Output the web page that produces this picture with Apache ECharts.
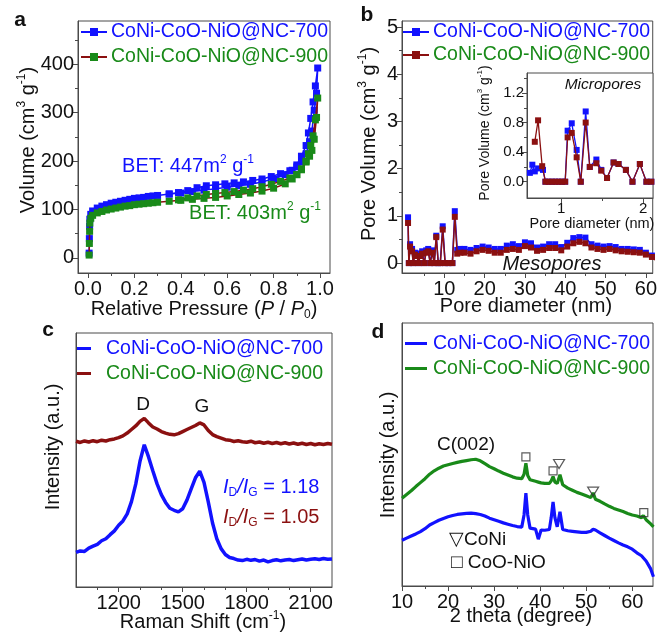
<!DOCTYPE html>
<html>
<head>
<meta charset="utf-8">
<script src="https://cdn.jsdelivr.net/npm/echarts@6/dist/echarts.min.js"></script>
<style>html,body{margin:0;padding:0;background:#fff}#c{width:660px;height:632px}</style>
</head>
<body>
<div id="c"></div>
<script>
// ---------- DATA ----------
const LBL700 = 'CoNi-CoO-NiO@NC-700';
const LBL900 = 'CoNi-CoO-NiO@NC-900';

// (a) N2 isotherms: adsorption then desorption
const isoP700 = [0.005,0.006,0.007,0.008,0.012,0.02,0.04,0.06,0.08,0.10,0.12,0.14,0.16,0.18,0.20,0.22,0.24,0.26,0.28,0.30,0.35,0.40,0.45,0.50,0.55,0.60,0.65,0.70,0.75,0.80,0.85,0.88,0.90,0.92,0.94,0.95,0.96,0.97,0.98,0.99,
  0.985,0.975,0.965,0.955,0.94,0.92,0.90,0.87,0.83,0.79,0.75,0.71,0.67,0.63,0.59,0.55,0.51,0.47,0.43,0.39,0.35];
const isoV700 = [10,40,65,80,90,97,103,107,110,113,115,117,119,121,123,124,125,127,128,129,132,134,137,140,143,146,149,152,157,163,172,181,192,210,232,258,288,322,355,392,
  340,305,262,240,215,198,188,180,174,168,163,160,157,155,153,151,149,145,139,135,132];
const isoP900 = [0.005,0.006,0.007,0.008,0.012,0.02,0.04,0.06,0.08,0.10,0.12,0.14,0.16,0.18,0.20,0.22,0.24,0.26,0.28,0.30,0.35,0.40,0.45,0.50,0.55,0.60,0.65,0.70,0.75,0.80,0.85,0.88,0.90,0.92,0.94,0.95,0.96,0.97,0.98,0.99,
  0.985,0.975,0.965,0.955,0.94,0.92,0.90,0.87,0.83,0.79,0.75,0.71,0.67,0.63,0.59,0.55,0.51,0.47,0.43,0.39];
const isoV900 = [6,30,55,72,82,88,93,96,99,101,103,105,107,108,110,111,112,113,114,115,117,119,121,123,125,128,131,134,138,144,153,163,172,184,200,215,232,252,285,330,
  290,245,222,210,198,182,172,165,158,152,147,143,140,137,135,133,131,128,124,120];

// (b) pore size distribution (mesopores)
const poreD = [1.0,1.2,1.5,2.0,2.3,2.7,3.2,3.6,4.0,4.5,5.0,5.5,6.0,6.5,7.0,7.5,8.0,8.5,9.0,9.6,10.2,11.0,12.0,12.6,13.2,14.0,15.0,16.5,18.0,19.5,21.0,22.5,24.0,25.5,27.0,28.5,30.0,31.5,33.0,34.5,36.0,37.5,39.0,40.5,42.0,43.5,45.0,46.5,48.0,49.5,51.0,52.5,54.0,55.5,57.0,58.5,60.0,61.5,62.5];
const pore700 = [0.97,0.0,0.4,0.3,0.0,0.22,0.2,0.0,0.2,0.25,0.0,0.27,0.3,0.0,0.27,0.0,0.58,0.0,0.0,0.78,0.0,0.0,0.0,1.1,0.28,0.3,0.3,0.28,0.32,0.35,0.33,0.3,0.3,0.37,0.4,0.36,0.44,0.42,0.33,0.35,0.4,0.4,0.34,0.43,0.53,0.55,0.54,0.4,0.37,0.35,0.36,0.34,0.3,0.3,0.29,0.28,0.22,0.16,0.08];
const pore900 = [0.85,0.0,0.35,0.25,0.0,0.18,0.15,0.0,0.15,0.2,0.0,0.22,0.25,0.0,0.22,0.0,0.55,0.0,0.0,0.71,0.0,0.0,0.0,0.98,0.2,0.22,0.22,0.2,0.25,0.28,0.26,0.22,0.22,0.28,0.3,0.28,0.36,0.33,0.26,0.28,0.32,0.32,0.27,0.35,0.42,0.45,0.42,0.33,0.3,0.28,0.3,0.27,0.25,0.24,0.23,0.22,0.18,0.13,0.05];

// (b inset) micropores
const micD700 = [0.62,0.65,0.68,0.72,0.78,0.81,0.85,0.89,0.93,0.97,1.01,1.05,1.08,1.13,1.19,1.24,1.30,1.35,1.43,1.49,1.56,1.64,1.70,1.79,1.87,1.96,2.04,2.10];
const mic700  = [0.12,0.23,0.14,0.18,0.16,0,0,0,0,0,0,0,0.69,0.79,0.43,0,0.95,0.2,0.3,0.16,0.05,0.26,0.24,0.16,0,0.24,0,0];
const micD900 = [0.68,0.72,0.77,0.81,0.85,0.89,0.93,0.97,1.01,1.05,1.08,1.13,1.19,1.24,1.30,1.35,1.43,1.49,1.56,1.64,1.70,1.79,1.87,1.96,2.04,2.10];
const mic900  = [0.54,0.83,0.21,0,0,0,0,0,0,0,0.6,0.66,0.33,0,0.8,0.2,0.25,0.15,0.05,0.26,0.24,0.16,0,0.24,0,0];

// (c) Raman (arbitrary intensity units)
const ramanShift = [1000,1020,1040,1060,1080,1100,1120,1140,1160,1180,
  1200,1220,1240,1260,1280,1300,1320,1340,1360,1380,
  1400,1420,1440,1460,1480,1500,1520,1540,1560,1580,
  1600,1620,1640,1660,1680,1700,1720,1740,1760,1780,
  1800,1820,1840,1860,1880,1900,1920,1940,1960,1980,
  2000,2020,2040,2060,2080,2100,2120,2140,2160,2180,2200];
const raman700 = [13.6,14.2,14.0,15.3,16.1,16.8,18.2,19.0,20.6,22.1,
  24.3,26.0,28.8,33.6,40.5,49.5,56.0,51.2,45.8,40.6,
  36.4,33.3,31.0,30.2,29.6,30.8,34.2,38.6,43.0,45.6,
  41.2,33.5,25.2,19.0,15.1,12.8,11.6,11.2,10.6,10.4,
  10.9,10.5,10.8,10.2,10.6,9.9,10.4,10.7,10.3,10.6,
  10.8,10.4,10.7,11.0,10.6,10.9,11.1,10.8,11.2,10.9,11.0];
const raman900 = [57.4,56.9,57.5,57.1,57.6,57.2,57.8,57.5,58.0,58.3,
  58.8,59.5,60.6,62.0,63.4,65.2,66.4,64.6,63.0,62.2,
  61.2,60.6,60.1,59.9,60.4,61.2,62.0,62.8,63.6,64.6,
  63.8,61.6,60.0,59.2,58.6,58.0,57.8,57.3,57.6,57.2,
  57.0,57.4,56.8,57.1,56.6,57.0,56.5,56.9,56.4,56.8,
  56.3,56.7,56.2,56.6,56.1,56.5,56.0,56.4,56.1,56.5,56.2];

// (d) XRD (arbitrary intensity units)
const xrdTheta = [10,11,12,13,14,15,16,17,18,19,20,21,22,23,24,25,26,27,28,29,30,31,32,33,34,35,36,
  36.5,36.9,37.3,37.8,39,39.6,40.2,41,42,42.4,42.8,43.2,43.7,44.3,44.9,
  46,47,48,49,50,51,51.5,52,53,54,55,56,57,58,59,60,61,62,62.4,63,64,64.6];
const xrd900 = [33.4,34.8,36.2,37.8,39.3,40.8,42.5,43.8,44.8,45.6,46.1,46.6,47.0,47.4,47.7,48.0,48.2,47.6,46.5,45.4,44.6,43.7,42.9,42.2,41.5,41.0,40.8,
  42.5,46.7,42.0,40.4,39.8,39.5,39.2,39.0,39.0,40.0,41.6,39.5,39.0,42.3,38.5,
  37.2,36.4,35.6,35.0,34.3,33.6,35.4,33.0,32.2,31.2,30.3,29.5,28.9,28.3,27.6,27.0,26.6,26.0,26.8,25.2,23.6,22.5];
const xrd700 = [17.4,18.2,19.0,19.8,20.7,21.8,23.2,24.1,25.0,25.7,26.3,26.8,27.2,27.4,27.6,27.7,27.5,27.2,26.6,25.8,25.2,24.6,24.0,23.5,23.0,22.6,22.4,
  27.0,35.3,27.0,22.0,21.6,17.8,21.3,21.2,21.5,26.0,32.0,26.0,22.5,28.2,21.5,
  21.0,20.8,20.6,20.4,20.4,20.8,21.6,21.3,20.2,19.2,18.2,17.3,16.4,15.6,14.9,14.0,12.6,11.5,11.0,9.5,6.5,3.5];
const coNiPeaks = [[44.1,46.4],[51.5,35.9]];
const coONiOPeaks = [[36.9,49.1],[42.8,43.8],[62.5,27.9]];

// tick values
const aXTicks = [0,0.2,0.4,0.6,0.8,1.0], aXMinor = [0.1,0.3,0.5,0.7,0.9];
const aYTicks = [0,100,200,300,400], aYMinor = [50,150,250,350,450];
const bXTicks = [10,20,30,40,50,60], bXMinor = [5,15,25,35,45,55];
const bYTicks = [0,1,2,3,4,5], bYMinor = [0.5,1.5,2.5,3.5,4.5];
const iXTicks = [1,2], iXMinor = [1.5];
const iYTicks = [0,0.4,0.8,1.2], iYMinor = [0.2,0.6,1.0,1.4];
const cXTicks = [1200,1500,1800,2100], cXMinor = [1100,1300,1400,1600,1700,1900,2000];
const dXTicks = [10,20,30,40,50,60], dXMinor = [15,25,35,45,55];

// ---------- STYLE ----------
const FF = '"Liberation Sans", Arial, Helvetica, sans-serif';
const BLUE = '#1212ff', GREEN = '#198a19', RED = '#8b1010', AX = '#4a4a4a', TXT = '#111';
const zip = (xs, ys) => xs.map((x, i) => [x, ys[i]]);

function richSet(size, color) {
  const s = Math.round(size * 0.6);
  return {
    n: {fontSize: size, fill: color, fontFamily: FF, lineHeight: size + 4},
    i: {fontSize: size, fill: color, fontFamily: FF, fontStyle: 'italic', lineHeight: size + 4},
    sup: {fontSize: s, fill: color, fontFamily: FF, verticalAlign: 'top', lineHeight: s},
    sub: {fontSize: s, fill: color, fontFamily: FF, verticalAlign: 'bottom', lineHeight: s}
  };
}
function txt(x, y, text, size, color, o) {
  o = o || {};
  return {
    type: 'text', x: x, y: y, rotation: o.rot || 0, silent: true, z: 100,
    style: {
      text: text, fill: color, fontSize: size, fontFamily: FF,
      fontStyle: o.italic ? 'italic' : 'normal', fontWeight: o.bold ? 'bold' : 'normal',
      align: o.align || 'center', verticalAlign: 'middle', rich: richSet(size, color)
    }
  };
}

function mainX(grid, min, max, ticks, fmt, fs, margin) {
  return {type: 'value', gridIndex: grid, min: min, max: max, position: 'bottom',
    axisLine: {show: true, onZero: false, lineStyle: {color: AX, width: 1}},
    axisTick: {show: true, inside: false, length: 5, customValues: ticks, lineStyle: {color: AX}},
    axisLabel: {show: true, customValues: ticks, formatter: fmt, fontSize: fs, fontFamily: FF, color: TXT, margin: margin},
    splitLine: {show: false}};
}
function minorX(grid, min, max, ticks) {
  return {type: 'value', gridIndex: grid, min: min, max: max, position: 'bottom',
    axisLine: {show: false, onZero: false},
    axisTick: {show: true, inside: false, length: 3, customValues: ticks, lineStyle: {color: AX}},
    axisLabel: {show: false}, splitLine: {show: false}};
}
function mainY(grid, min, max, ticks, fmt, fs, margin) {
  return {type: 'value', gridIndex: grid, min: min, max: max, position: 'left',
    axisLine: {show: true, onZero: false, lineStyle: {color: AX, width: 1}},
    axisTick: {show: true, inside: false, length: 5, customValues: ticks, lineStyle: {color: AX}},
    axisLabel: {show: true, customValues: ticks, formatter: fmt, fontSize: fs, fontFamily: FF, color: TXT, margin: margin},
    splitLine: {show: false}};
}
function minorY(grid, min, max, ticks) {
  return {type: 'value', gridIndex: grid, min: min, max: max, position: 'left',
    axisLine: {show: false, onZero: false},
    axisTick: {show: true, inside: false, length: 3, customValues: ticks, lineStyle: {color: AX}},
    axisLabel: {show: false}, splitLine: {show: false}};
}
function bareY(grid, min, max) {
  return {type: 'value', gridIndex: grid, min: min, max: max, position: 'left',
    axisLine: {show: true, onZero: false, lineStyle: {color: AX}},
    axisTick: {show: false}, axisLabel: {show: false}, splitLine: {show: false}};
}
const f1 = v => Number(v).toFixed(1);
const f0 = v => String(Math.round(v));

const names = {a700: LBL700, a900: LBL900, b700: LBL700, b900: LBL900, c700: LBL700, c900: LBL900, d700: LBL700, d900: LBL900};
function legend(ids, left, top, gap, iw, extra) {
  return Object.assign({orient: 'vertical', left: left, top: top, padding: 0, itemGap: gap, itemWidth: iw, itemHeight: 10,
    selectedMode: false, formatter: n => names[n],
    textStyle: {fontSize: 19.5, fontFamily: FF, lineHeight: 22, padding: [0, 0, 0, -1]},
    data: [{name: ids[0], textStyle: {color: BLUE}}, {name: ids[1], textStyle: {color: GREEN}}]}, extra || {});
}
function lineSeries(name, xi, yi, data, lineColor, markColor, sym, symSize, lw, z) {
  return {name: name, type: 'line', xAxisIndex: xi, yAxisIndex: yi, data: data,
    symbol: sym, symbolSize: symSize, showSymbol: sym !== 'none', clip: true, z: z,
    itemStyle: {color: markColor}, lineStyle: {color: lineColor, width: lw},
    emphasis: {disabled: true}, animation: false};
}

const grids = [
  {left: 78, top: 21, width: 252, height: 252},   // a
  {left: 402, top: 21, width: 254, height: 252},  // b
  {left: 527, top: 73, width: 126, height: 125},  // b inset
  {left: 76, top: 333, width: 256, height: 254},  // c
  {left: 402, top: 323, width: 251, height: 263}  // d
].map((g, i) => Object.assign({show: true, borderColor: AX, borderWidth: 1, backgroundColor: i === 2 ? '#fff' : 'transparent', z: i === 2 ? 5 : 0}, g));

const xAxis = [
  mainX(0, -0.043, 1.043, aXTicks, f1, 20, 6), minorX(0, -0.043, 1.043, aXMinor),
  mainX(1, -0.5, 61.7, bXTicks, f0, 20, 6), minorX(1, -0.5, 61.7, bXMinor),
  mainX(2, 0.585, 2.12, iXTicks, f0, 15, 3), minorX(2, 0.585, 2.12, iXMinor),
  mainX(3, 1000, 2200, cXTicks, f0, 20, 6), minorX(3, 1000, 2200, cXMinor),
  mainX(4, 10, 64.5, dXTicks, f0, 20, 6), minorX(4, 10, 64.5, dXMinor)
];
xAxis[4].z = 6; xAxis[5].z = 6;
const yAxis = [
  mainY(0, -31, 489, aYTicks, f0, 20, 4), minorY(0, -31, 489, aYMinor),
  mainY(1, -0.21, 5.13, bYTicks, f0, 20, 4), minorY(1, -0.21, 5.13, bYMinor),
  mainY(2, -0.22, 1.47, iYTicks, f1, 15, 3), minorY(2, -0.22, 1.47, iYMinor),
  bareY(3, 0, 100), bareY(4, 0, 100)
];
yAxis[4].z = 6; yAxis[5].z = 6;

const series = [
  lineSeries('a700', 0, 0, zip(isoP700, isoV700), BLUE, BLUE, 'rect', 7, 1.5, 2),
  lineSeries('a900', 0, 0, zip(isoP900, isoV900), RED, GREEN, 'rect', 7, 1.5, 3),
  lineSeries('b700', 2, 2, zip(poreD, pore700), BLUE, BLUE, 'rect', 6, 1.5, 2),
  lineSeries('b900', 2, 2, zip(poreD, pore900), RED, RED, 'rect', 6, 1.5, 3),
  lineSeries('i700', 4, 4, zip(micD700, mic700), BLUE, BLUE, 'rect', 6, 1.3, 8),
  lineSeries('i900', 4, 4, zip(micD900, mic900), RED, RED, 'rect', 6, 1.3, 9),
  lineSeries('c700', 6, 6, zip(ramanShift, raman700), BLUE, BLUE, 'none', 0, 3.5, 2),
  lineSeries('c900', 6, 6, zip(ramanShift, raman900), RED, RED, 'none', 0, 3.5, 2),
  lineSeries('d700', 8, 7, zip(xrdTheta, xrd700), BLUE, BLUE, 'none', 0, 3.2, 2),
  lineSeries('d900', 8, 7, zip(xrdTheta, xrd900), GREEN, GREEN, 'none', 0, 3.2, 2),
  {name: 'CoNi peak', type: 'scatter', xAxisIndex: 8, yAxisIndex: 7, data: coNiPeaks,
    symbol: 'triangle', symbolRotate: 180, symbolSize: [11, 9], z: 4,
    itemStyle: {color: 'rgba(0,0,0,0)', borderColor: '#333', borderWidth: 1.2}, emphasis: {disabled: true}},
  {name: 'CoO-NiO peak', type: 'scatter', xAxisIndex: 8, yAxisIndex: 7, data: coONiOPeaks,
    symbol: 'rect', symbolSize: 8, z: 4,
    itemStyle: {color: 'rgba(0,0,0,0)', borderColor: '#333', borderWidth: 1.2}, emphasis: {disabled: true}}
];

const SUP = '{n|(cm}{sup|3}{n| g}{sup|-1}{n|)}';
const graphic = [
  txt(20, 20, 'a', 21, TXT, {bold: true}),
  txt(367, 15, 'b', 21, TXT, {bold: true}),
  txt(48, 330, 'c', 21, TXT, {bold: true}),
  txt(378, 332, 'd', 21, TXT, {bold: true}),
  txt(28, 140, '{n|Volume }' + SUP, 20, TXT, {rot: Math.PI / 2}),
  txt(204, 309, '{n|Relative Pressure (}{i|P}{n| / }{i|P}{sub|0}{n|)}', 20, TXT),
  txt(369, 144, '{n|Pore Volume }' + SUP, 20, TXT, {rot: Math.PI / 2}),
  txt(526, 306, 'Pore diameter (nm)', 20, TXT),
  txt(485, 133, '{n|Pore Volume }' + SUP, 14, TXT, {rot: Math.PI / 2}),
  txt(592, 224, 'Pore diameter (nm)', 14.5, TXT),
  txt(603, 85, 'Micropores', 15.5, TXT, {italic: true}),
  txt(552, 264, 'Mesopores', 20, TXT, {italic: true}),
  txt(188, 166, '{n|BET: 447m}{sup|2}{n| g}{sup|-1}', 20, BLUE),
  txt(255, 213, '{n|BET: 403m}{sup|2}{n| g}{sup|-1}', 20, GREEN),
  txt(53, 447, 'Intensity (a.u.)', 20, TXT, {rot: Math.PI / 2}),
  txt(203, 622, '{n|Raman Shift (cm}{sup|-1}{n|)}', 20, TXT),
  txt(143, 405, 'D', 19, TXT),
  txt(202, 407, 'G', 19, TXT),
  txt(223, 487, '{i|I}{sub|D}{i|/I}{sub|G}{n| = 1.18}', 20, BLUE, {align: 'left'}),
  txt(223, 517, '{i|I}{sub|D}{i|/I}{sub|G}{n| = 1.05}', 20, RED, {align: 'left'}),
  txt(388, 455, 'Intensity (a.u.)', 20, TXT, {rot: Math.PI / 2}),
  txt(521, 616, '2 theta (degree)', 20, TXT),
  txt(466, 445, 'C(002)', 19, TXT),
  txt(449, 540, '\u25BDCoNi', 19, TXT, {align: 'left'}),
  txt(451, 563, '\u25A1 CoO-NiO', 19, TXT, {align: 'left'})
];

const chart = echarts.init(document.getElementById('c'), null, {renderer: 'canvas'});
chart.setOption({
  animation: false,
  backgroundColor: '#ffffff',
  grid: grids,
  xAxis: xAxis,
  yAxis: yAxis,
  legend: [
    legend(['a700', 'a900'], 80, 21, 3, 26),
    legend(['b700', 'b900'], 402, 21, 1, 26),
    legend(['c700', 'c900'], 77, 336, 0, 14, {icon: 'rect', itemHeight: 3,
      textStyle: {fontSize: 19.5, fontFamily: FF, lineHeight: 25, padding: [0, 0, 0, 10]}}),
    legend(['d700', 'd900'], 405, 331, 0, 22, {icon: 'rect', itemHeight: 3,
      textStyle: {fontSize: 19.5, fontFamily: FF, lineHeight: 25, padding: [0, 0, 0, 1]}})
  ],
  series: series,
  graphic: graphic
});
</script>
</body>
</html>
